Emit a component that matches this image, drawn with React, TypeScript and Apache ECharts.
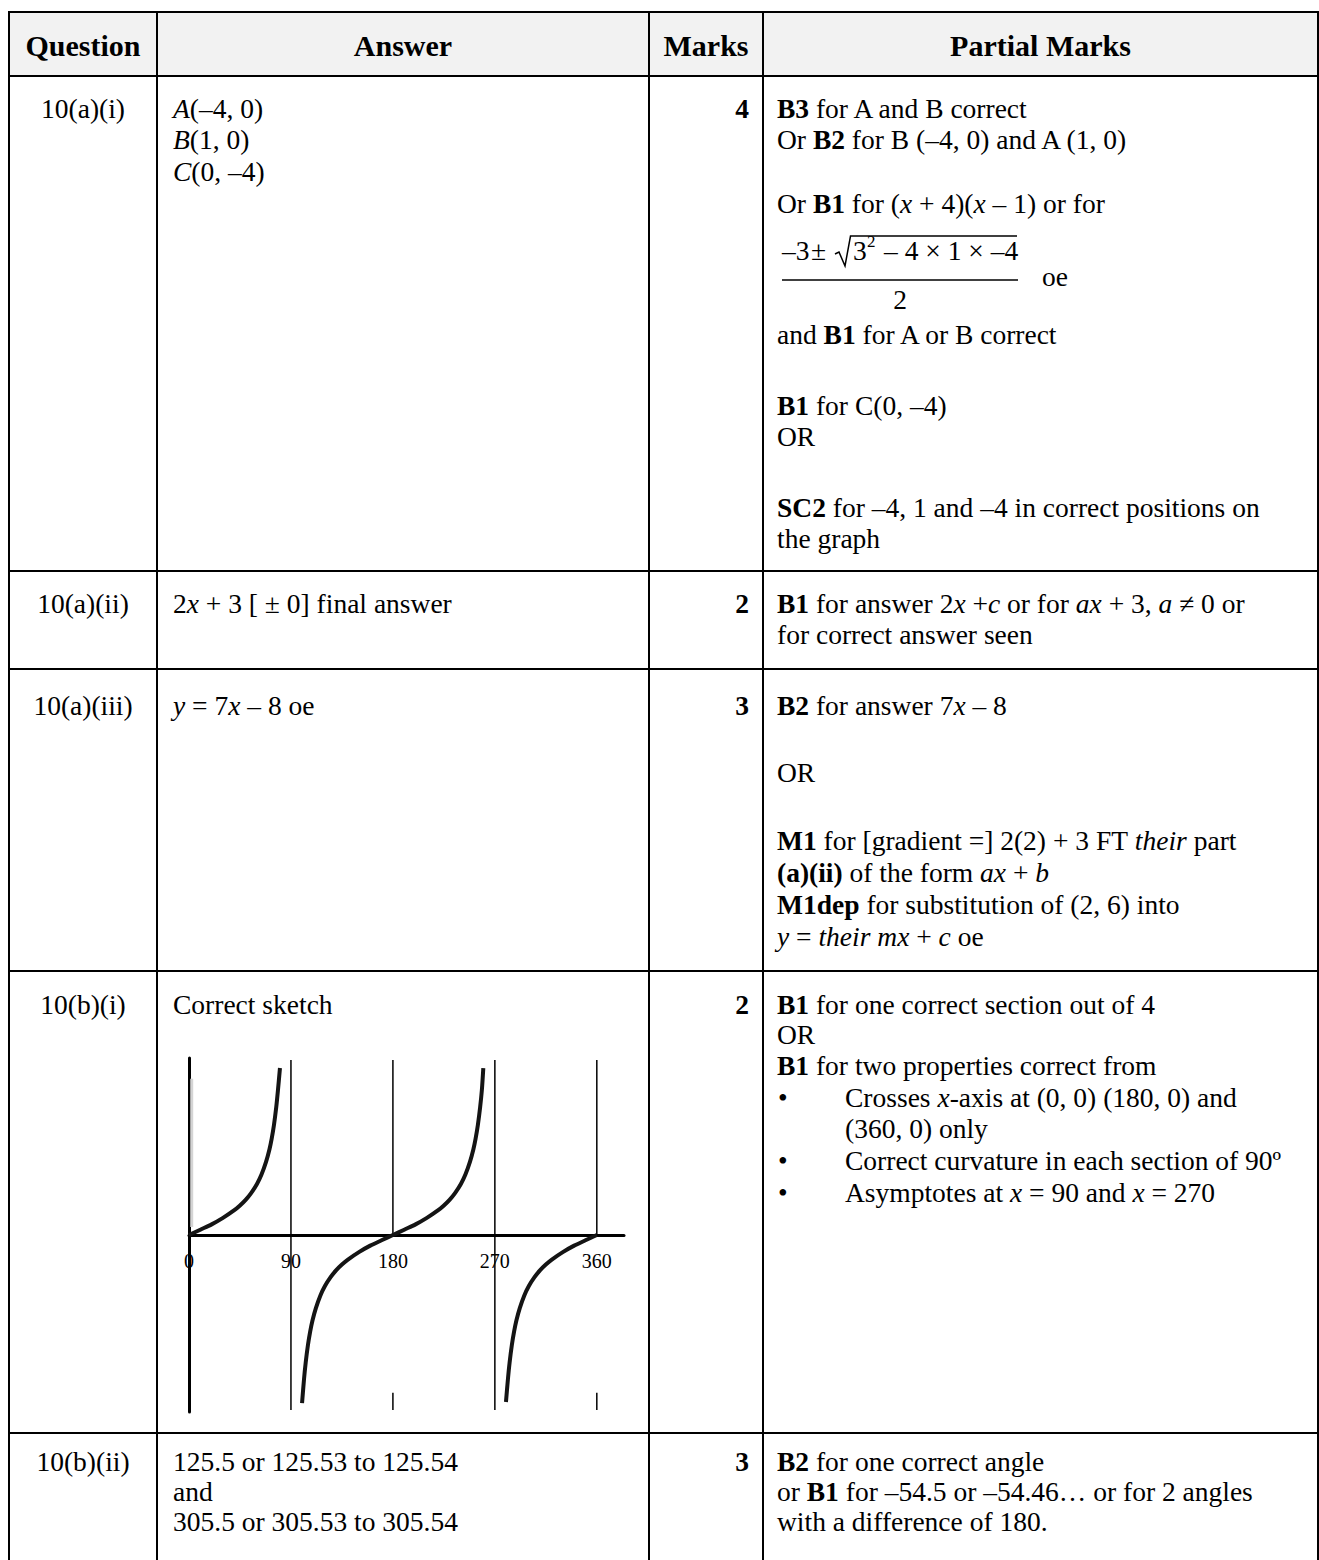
import React, { useEffect, useRef } from 'react';
import * as echarts from 'echarts';

const FONT = '"Liberation Serif", "Times New Roman", Times, serif';
const FS = 27.5;
const HEADER_FS = 30;

// ---------- table content ----------
const HEADERS = ['Question', 'Answer', 'Marks', 'Partial Marks'];
const QUESTIONS = ['10(a)(i)', '10(a)(ii)', '10(a)(iii)', '10(b)(i)', '10(b)(ii)'];
const MARKS = ['4', '2', '3', '2', '3'];
const ANSWERS = [
  ['{i|A}(–4, 0)', '{i|B}(1, 0)', '{i|C}(0, –4)'],
  ['2{i|x} + 3 [ ± 0] final answer'],
  ['{i|y} = 7{i|x} – 8 oe'],
  ['Correct sketch'],
  ['125.5 or 125.53 to 125.54', 'and', '305.5 or 305.53 to 305.54'],
];
const PARTIAL = [
  [
    '{b|B3} for A and B correct',
    'Or {b|B2} for B (–4, 0) and A (1, 0)',
    'Or {b|B1} for ({i|x} + 4)({i|x} – 1) or for',
    'and {b|B1} for A or B correct',
    '{b|B1} for C(0, –4)',
    'OR',
    '{b|SC2} for –4, 1 and –4 in correct positions on',
    'the graph',
  ],
  ['{b|B1} for answer 2{i|x} +{i|c} or for {i|ax} + 3, {i|a} ≠ 0 or', 'for correct answer seen'],
  [
    '{b|B2} for answer 7{i|x} – 8',
    'OR',
    '{b|M1} for [gradient =] 2(2) + 3 FT {i|their} part',
    '{b|(a)(ii)} of the form {i|ax} + {i|b}',
    '{b|M1dep} for substitution of (2, 6) into',
    '{i|y} = {i|their mx} + {i|c} oe',
  ],
  [
    '{b|B1} for one correct section out of 4',
    'OR',
    '{b|B1} for two properties correct from',
    'Crosses {i|x}-axis at (0, 0) (180, 0) and',
    '(360, 0) only',
    'Correct curvature in each section of 90º',
    'Asymptotes at {i|x} = 90 and {i|x} = 270',
  ],
  ['{b|B2} for one correct angle', 'or {b|B1} for –54.5 or –54.46… or for 2 angles', 'with a difference of 180.'],
];
// which lines in row 4 carry a bullet / are indented
const BULLETED = [3, 5, 6];
const INDENTED = [3, 4, 5, 6];
const FRACTION_NUM = ['–3', '±', '3', '2', '– 4 × 1 × –4'];
const FRACTION_DEN = '2';
const FRACTION_TAIL = 'oe';

// ---------- sketch data ----------
const X_TICKS = [0, 90, 180, 270, 360];
const ASYMPTOTES = [90, 270];
const ZERO_MARKS = [180, 360];
const SECTION_A: [number, number][] = [
  [0, 0], [10, 0.18], [20, 0.36], [30, 0.58], [40, 0.84], [45, 1], [50, 1.19], [55, 1.43],
  [60, 1.73], [64, 2.05], [68, 2.48], [71, 2.9], [73, 3.27], [75, 3.73], [77, 4.33],
  [78.5, 4.9], [80.3, 5.66],
];
const SECTION_B: [number, number][] = [
  [99.8, -5.7], [101.5, -4.9], [103, -4.33], [105, -3.73], [107, -3.27], [109, -2.9],
  [112, -2.48], [116, -2.05], [120, -1.73], [125, -1.43], [130, -1.19], [135, -1],
  [140, -0.84], [150, -0.58], [160, -0.36], [170, -0.18], [180, 0], [190, 0.18],
  [200, 0.36], [210, 0.58], [220, 0.84], [225, 1], [230, 1.19], [235, 1.43], [240, 1.73],
  [244, 2.05], [248, 2.48], [251, 2.9], [253, 3.27], [255, 3.73], [257, 4.33],
  [258.5, 4.9], [259.8, 5.66],
];
const SECTION_C: [number, number][] = [
  [279.8, -5.66], [281.5, -4.9], [283, -4.33], [285, -3.73], [287, -3.27], [289, -2.9],
  [292, -2.48], [296, -2.05], [300, -1.73], [305, -1.43], [310, -1.19], [315, -1],
  [320, -0.84], [330, -0.58], [340, -0.36], [350, -0.18], [360, 0],
];
const FAINT_EDGE: [number, number][] = [[2.4, 5.3], [2.4, 0.27]];

// ---------- layout ----------
const COL_X = [9, 157, 649, 763, 1318];
const ROW_Y = [12, 76, 571, 669, 971, 1433];
const PAGE_BOTTOM = 1560;
const HEADER_Y = 45;
const FIRST_LINE_Y = [108, 603, 705, 1004, 1461];
const ANSWER_Y = [[108, 139.5, 171], [603], [705], [1004], [1461, 1491, 1521]];
const PARTIAL_Y = [
  [108, 139.5, 203, 334, 405, 436.5, 507, 538],
  [603, 634],
  [705, 772, 840, 872, 904, 936],
  [1004, 1034, 1065, 1097, 1128, 1160, 1192],
  [1461, 1491, 1521],
];
const GRID = { left: 189, top: 1058, width: 435, height: 354 };
const AXIS_Y = 1235;

const RICH = {
  b: { fontWeight: 'bold', fontFamily: FONT, fontSize: FS, fill: '#000' },
  i: { fontStyle: 'italic', fontFamily: FONT, fontSize: FS, fill: '#000' },
};

function txt(x: number, y: number, text: string, align = 'left', extra: any = {}) {
  return {
    type: 'text',
    x,
    y,
    z: 10,
    silent: true,
    style: {
      text,
      fill: '#000',
      fontFamily: FONT,
      fontSize: FS,
      align,
      verticalAlign: 'middle',
      rich: RICH,
      ...extra,
    },
  };
}

function hline(x1: number, x2: number, y: number, w = 2) {
  return { type: 'line', z: 5, silent: true, shape: { x1, y1: y, x2, y2: y }, style: { stroke: '#000', lineWidth: w } };
}
function vline(x: number, y1: number, y2: number, w = 2) {
  return { type: 'line', z: 5, silent: true, shape: { x1: x, y1, x2: x, y2 }, style: { stroke: '#000', lineWidth: w } };
}

function buildGraphic() {
  const els: any[] = [];
  els.push({
    type: 'rect',
    z: 1,
    silent: true,
    shape: { x: COL_X[0], y: ROW_Y[0], width: COL_X[4] - COL_X[0], height: ROW_Y[1] - ROW_Y[0] },
    style: { fill: '#f2f2f2' },
  });
  ROW_Y.forEach((y) => els.push(hline(COL_X[0] - 1, COL_X[4] + 1, y)));
  COL_X.forEach((x) => els.push(vline(x, ROW_Y[0] - 1, PAGE_BOTTOM)));

  HEADERS.forEach((h, k) => {
    const cx = (COL_X[k] + COL_X[k + 1]) / 2;
    els.push(txt(cx, HEADER_Y, h, 'center', { fontWeight: 'bold', fontSize: HEADER_FS }));
  });

  const qx = (COL_X[0] + COL_X[1]) / 2;
  const ax = COL_X[1] + 16;
  const mx = COL_X[3] - 14;
  const px = COL_X[3] + 14;

  QUESTIONS.forEach((q, r) => {
    els.push(txt(qx, FIRST_LINE_Y[r], q, 'center'));
    els.push(txt(mx, FIRST_LINE_Y[r], MARKS[r], 'right', { fontWeight: 'bold' }));
    ANSWERS[r].forEach((a, k) => els.push(txt(ax, ANSWER_Y[r][k], a)));
    PARTIAL[r].forEach((p, k) => {
      const indented = r === 3 && INDENTED.includes(k);
      els.push(txt(indented ? px + 68 : px, PARTIAL_Y[r][k], p));
      if (r === 3 && BULLETED.includes(k)) els.push(txt(px + 1, PARTIAL_Y[r][k], '•'));
    });
  });

  // fraction  (–3 ± √(3² – 4×1×–4)) / 2   oe
  const ny = 250;
  els.push(txt(782, ny, FRACTION_NUM[0]));
  els.push(txt(811, ny, FRACTION_NUM[1]));
  els.push({
    type: 'polyline',
    z: 6,
    silent: true,
    shape: { points: [[835, 254], [839, 252], [845, 266], [850.5, 236], [1017, 236]] },
    style: { stroke: '#000', lineWidth: 1.5, fill: null },
  });
  els.push(txt(853, ny, FRACTION_NUM[2]));
  els.push(txt(867, 241, FRACTION_NUM[3], 'left', { fontSize: 17 }));
  els.push(txt(884, ny, FRACTION_NUM[4]));
  els.push({
    type: 'line',
    z: 6,
    silent: true,
    shape: { x1: 782, y1: 280, x2: 1018, y2: 280 },
    style: { stroke: '#000', lineWidth: 1.5 },
  });
  els.push(txt(900, 299, FRACTION_DEN, 'center'));
  els.push(txt(1042, 276, FRACTION_TAIL));
  return els;
}

const Y_TOP = 5.93;
const Y_BOTTOM = -5.93;
const TICK_TOP = -5.35;

function seg(data: [number, number][], width: number, color = '#000', z = 2) {
  return {
    type: 'line',
    data,
    symbol: 'none',
    silent: true,
    z,
    lineStyle: { color, width, cap: 'butt' },
  };
}

function curve(data: [number, number][]) {
  return {
    type: 'line',
    data,
    symbol: 'none',
    silent: true,
    smooth: 0.3,
    z: 4,
    lineStyle: { color: '#141414', width: 4, cap: 'butt', join: 'round' },
  };
}

export default function App() {
  const ref = useRef<HTMLDivElement>(null);
  useEffect(() => {
    if (!ref.current) return;
    const chart = echarts.init(ref.current, null, { renderer: 'svg' });
    const series: any[] = [
      seg(FAINT_EDGE, 3, '#d4d4d4', 1),
      ...ASYMPTOTES.map((x) => seg([[x, Y_BOTTOM], [x, Y_TOP]], 1.5)),
      ...ZERO_MARKS.map((x) => seg([[x, 0], [x, Y_TOP]], 1.5)),
      ...ZERO_MARKS.map((x) => seg([[x, TICK_TOP], [x, Y_BOTTOM]], 1.5)),
      curve(SECTION_A),
      curve(SECTION_B),
      curve(SECTION_C),
    ];
    chart.setOption({
      animation: false,
      backgroundColor: '#ffffff',
      grid: { ...GRID, containLabel: false },
      xAxis: {
        type: 'value',
        min: 0,
        max: 384,
        interval: 90,
        position: 'bottom',
        offset: -(GRID.top + GRID.height - AXIS_Y),
        axisLine: { onZero: false, lineStyle: { color: '#000', width: 3 } },
        axisTick: { show: false },
        splitLine: { show: false },
        axisLabel: {
          color: '#000',
          fontFamily: FONT,
          fontSize: 20,
          margin: 16,
          showMaxLabel: false,
          formatter: (v: number) => (X_TICKS.includes(v) ? String(v) : ''),
        },
      },
      yAxis: {
        type: 'value',
        min: -6,
        max: 6,
        axisLine: { show: true, onZero: false, lineStyle: { color: '#000', width: 3 } },
        axisTick: { show: false },
        axisLabel: { show: false },
        splitLine: { show: false },
      },
      series,
      graphic: { elements: buildGraphic() },
    });
    return () => chart.dispose();
  }, []);
  return (
    <div
      ref={ref}
      style={{ position: 'absolute', left: 0, top: 0, width: 1319, height: 1560, background: '#fff' }}
    />
  );
}
